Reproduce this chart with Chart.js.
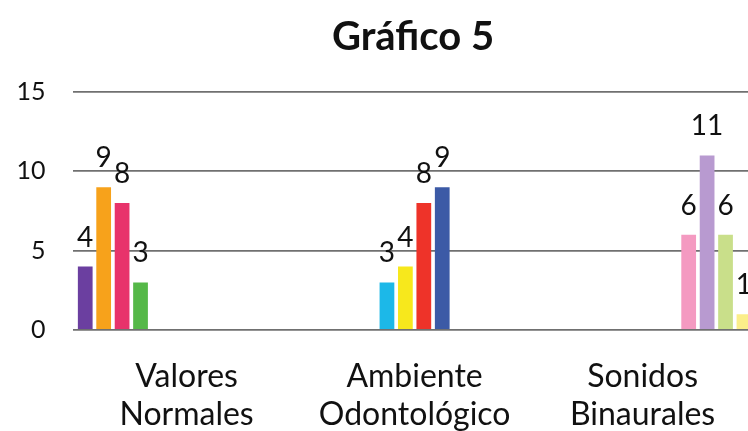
<!DOCTYPE html>
<html>
<head>
<meta charset="utf-8">
<script src="https://cdn.jsdelivr.net/npm/chart.js@4/dist/chart.umd.min.js"></script>
<style>
  html, body { margin: 0; padding: 0; background: #fff; overflow: hidden; }
  #wrap { position: relative; width: 826px; height: 431px; }
</style>
</head>
<body>
<div id="wrap"><canvas id="c"></canvas></div>
<script>
// ---- data ----
const categories = [["Valores", "Normales"], ["Ambiente", "Odontológico"], ["Sonidos", "Binaurales"]];
const yTicks = [0, 5, 10, 15];
const titleText = "Gráfico 5";

// series per group (null = no bar in that category)
const vnSerie1 = [4, null, null];
const vnSerie2 = [9, null, null];
const vnSerie3 = [8, null, null];
const vnSerie4 = [3, null, null];
const aoSerie1 = [null, 3, null];
const aoSerie2 = [null, 4, null];
const aoSerie3 = [null, 8, null];
const aoSerie4 = [null, 9, null];
const sbSerie1 = [null, null, 6];
const sbSerie2 = [null, null, 11];
const sbSerie3 = [null, null, 6];
const sbSerie4 = [null, null, 1];

const seriesValues = [vnSerie1, vnSerie2, vnSerie3, vnSerie4,
                      aoSerie1, aoSerie2, aoSerie3, aoSerie4,
                      sbSerie1, sbSerie2, sbSerie3, sbSerie4];
const seriesColors = ["#6b3fa0", "#f7a21b", "#e8336b", "#55b848",
                      "#1cb8e8", "#f7e81c", "#ee3329", "#3c5aa6",
                      "#f49ac1", "#b89ad0", "#c9df8a", "#fbee8a"];

const FONT = "Lato, 'Open Sans', sans-serif";

const valueLabels = {
  id: 'valueLabels',
  afterDatasetsDraw(chart) {
    const ctx = chart.ctx;
    ctx.save();
    ctx.font = "28px " + FONT;
    ctx.fillStyle = "#111";
    ctx.textAlign = "center";
    ctx.textBaseline = "alphabetic";
    chart.data.datasets.forEach((ds, di) => {
      const meta = chart.getDatasetMeta(di);
      meta.data.forEach((bar, i) => {
        const v = ds.data[i];
        if (v === null || v === undefined) return;
        ctx.fillText(String(v), bar.x, bar.y - 20);
      });
    });
    ctx.restore();
  }
};

new Chart(document.getElementById('c'), {
  type: 'bar',
  data: {
    labels: categories,
    datasets: seriesValues.map((vals, i) => ({
      data: vals,
      backgroundColor: seriesColors[i],
      borderWidth: 0,
      categoryPercentage: 0.97,
      barPercentage: 0.8,
      skipNull: false
    }))
  },
  options: {
    responsive: true,
    maintainAspectRatio: false,
    animation: false,
    layout: { padding: 0 },
    plugins: {
      legend: { display: false },
      tooltip: { enabled: false },
      title: {
        display: true,
        text: titleText,
        color: "#111",
        font: { family: FONT, size: 40, weight: 'bold' },
        padding: { top: 13, bottom: 31 }
      }
    },
    scales: {
      x: {
        grid: { display: false },
        border: { display: false },
        ticks: {
          color: "#111",
          font: { family: FONT, size: 32, lineHeight: 1.19 },
          padding: 20,
          maxRotation: 0,
          autoSkip: false
        },
        afterFit(s) { s.height = 101; }
      },
      y: {
        min: 0,
        max: 15,
        afterBuildTicks(s) { s.ticks = yTicks.map(v => ({ value: v })); },
        grid: { color: "#707070", lineWidth: 1.8, drawTicks: false },
        border: { display: false },
        ticks: {
          color: "#111",
          font: { family: FONT, size: 25 },
          padding: 27
        },
        afterFit(s) { s.width = 72.6; }
      },
      spacer: {
        type: 'linear',
        position: 'right',
        min: 0,
        max: 1,
        grid: { display: false, drawTicks: false },
        border: { display: false },
        ticks: { display: false },
        afterFit(s) { s.width = 69.4; }
      }
    }
  },
  plugins: [valueLabels]
});
</script>
</body>
</html>
